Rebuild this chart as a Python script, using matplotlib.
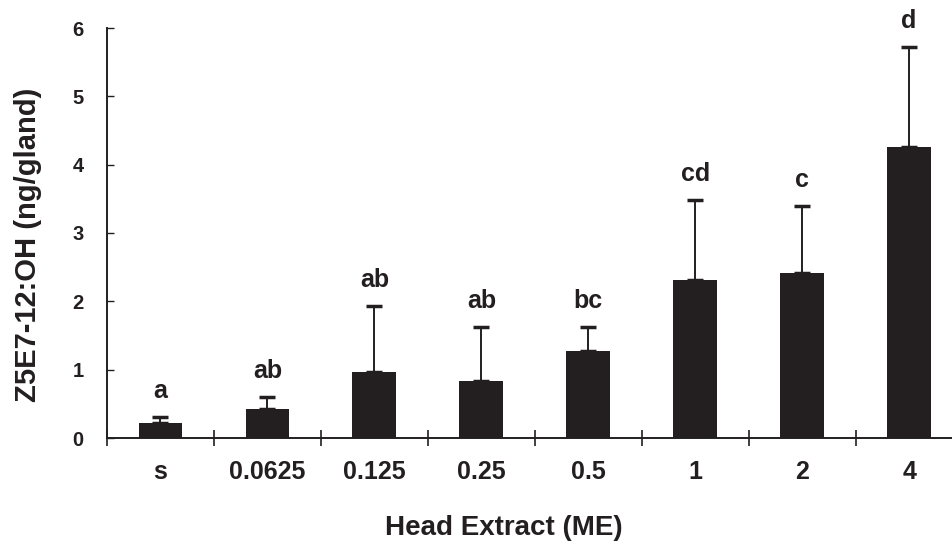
import matplotlib
matplotlib.use("Agg")
import matplotlib.pyplot as plt
import numpy as np

categories = ["s", "0.0625", "0.125", "0.25", "0.5", "1", "2", "4"]
means = [0.22, 0.42, 0.97, 0.83, 1.27, 2.31, 2.41, 4.26]
upper_err = [0.09, 0.18, 0.96, 0.79, 0.35, 1.17, 0.99, 1.46]
letters = ["a", "ab", "ab", "ab", "bc", "cd", "c", "d"]

plt.rcParams['font.family'] = ['Liberation Sans', 'DejaVu Sans']
plt.rcParams['font.weight'] = 'bold'

fig = plt.figure(figsize=(9.53, 5.43), dpi=100)
W, H = 953, 543
x0, x1 = 107, 953
y0, y1 = 438, 28
ax = fig.add_axes([x0 / W, 1 - y0 / H, (x1 - x0) / W, (y0 - y1) / H])

ink = "#231f20"
x = np.arange(len(categories))
ax.bar(x, means, width=0.41, color=ink, zorder=2)
ax.errorbar(x, means, yerr=[np.zeros(len(means)), upper_err], fmt="none",
            ecolor=ink, elinewidth=1.4, capsize=6, capthick=2.5, zorder=3)
for xi, m, e, lab in zip(x, means, upper_err, letters):
    ax.annotate(lab, (xi, m + e), xytext=(0, 10), textcoords="offset points",
                ha="center", va="bottom", fontsize=18, fontweight="bold", color=ink)

ax.set_xlim(-0.5, 7.41)
ax.set_ylim(0, 6)
ax.set_yticks(range(7))
ax.tick_params(axis="y", direction="in", length=5, width=1, labelsize=14.5,
               pad=17, colors=ink)
ax.set_xticks(x)
ax.set_xticklabels(categories)
ax.tick_params(axis="x", length=0, labelsize=18, pad=16, colors=ink)
ax.set_xticks(np.arange(-0.5, 7.5, 1), minor=True)
ax.tick_params(axis="x", which="minor", direction="inout", length=12, width=1.2, color=ink)

for s in ["top", "right"]:
    ax.spines[s].set_visible(False)
for s in ["left", "bottom"]:
    ax.spines[s].set_color(ink)
    ax.spines[s].set_linewidth(1.4)

fig.text(504 / W, 1 - 528 / H, "Head Extract (ME)", fontsize=20, fontweight="bold",
         ha="center", va="center", color=ink)
fig.text(28 / W, 1 - 245 / H, "Z5E7-12:OH (ng/gland)", fontsize=21, fontweight="bold",
         ha="center", va="center", rotation=90, color=ink)

fig.savefig("out.png", dpi=100)
